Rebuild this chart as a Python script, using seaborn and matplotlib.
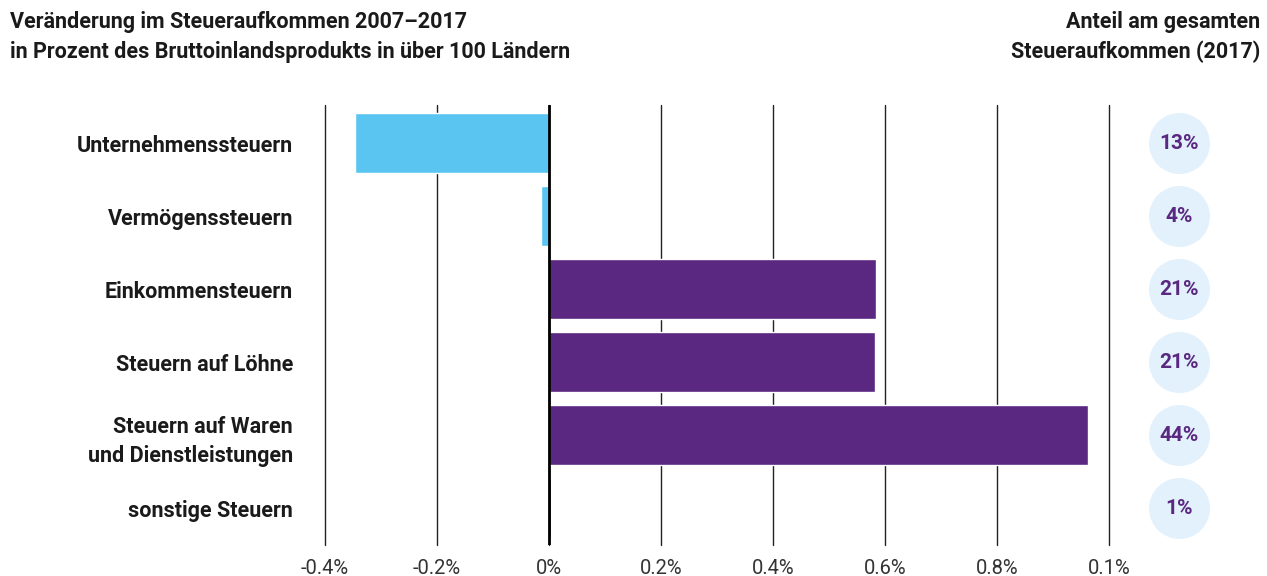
import matplotlib
matplotlib.use('Agg')
import matplotlib.pyplot as plt
import seaborn as sns
import pandas as pd

# Daten
kategorien = ['Unternehmenssteuern', 'Vermögenssteuern', 'Einkommensteuern',
              'Steuern auf Löhne', 'Steuern auf Waren\nund Dienstleistungen', 'sonstige Steuern']
veraenderung = [-0.346, -0.014, 0.584, 0.582, 0.963, 0.004]
anteil = ['13%', '4%', '21%', '21%', '44%', '1%']
farben = ['#5BC5F2', '#5BC5F2', '#5A2781', '#5A2781', '#5A2781', '#4A0E2E']
tick_werte = [-0.4, -0.2, 0, 0.2, 0.4, 0.6, 0.8, 1.0]
tick_labels = ['-0.4%', '-0.2%', '0%', '0.2%', '0.4%', '0.6%', '0.8%', '0.1%']

df = pd.DataFrame({'kategorie': kategorien, 'wert': veraenderung})

sns.set_style('white')
plt.rcParams['font.family'] = ['Roboto', 'DejaVu Sans']

fig = plt.figure(figsize=(12.67, 5.76), dpi=100)
ax = fig.add_axes([325 / 1267, 1 - 545 / 576, 784 / 1267, 440 / 576])

sns.barplot(data=df, x='wert', y='kategorie', hue='kategorie', palette=farben,
            orient='h', width=0.82, saturation=1, legend=False, ax=ax, zorder=3)

ax.set_xlim(-0.4, 1.0)
ax.set_ylim(5.5, -0.52)
for x in tick_werte:
    ax.axvline(x, color='#222222', lw=1, zorder=1, clip_on=False)
ax.axvline(0, color='black', lw=2, zorder=4)

ax.set_xticks(tick_werte)
ax.set_xticklabels(tick_labels, fontsize=14.5, color='#333333', fontweight='normal')
ax.tick_params(axis='x', length=4, color='#333333', pad=6)
ax.tick_params(axis='y', length=0, pad=23)
for lab in ax.get_yticklabels():
    lab.set_fontweight('bold')
    lab.set_fontsize(15.5)
    lab.set_color('#1a1a1a')
    lab.set_linespacing(1.4)
ax.set_xlabel('')
ax.set_ylabel('')
sns.despine(ax=ax, left=True, bottom=True)

# Kreise mit Anteilen
xk = 1.125
ax.scatter([xk] * len(anteil), range(len(anteil)), s=1930, color='#E2F1FC',
           clip_on=False, zorder=2, linewidths=0)
for i, a in enumerate(anteil):
    ax.text(xk, i, a, ha='center', va='center', fontsize=15, fontweight='bold',
            color='#5A2781', clip_on=False)

fig.text(10 / 1267, 1 - 37 / 576, 'Veränderung im Steueraufkommen 2007–2017\nin Prozent des Bruttoinlandsprodukts in über 100 Ländern',
         ha='left', va='center', fontsize=15.5, fontweight='bold', color='#1a1a1a', linespacing=1.45)
fig.text(1260 / 1267, 1 - 37 / 576, 'Anteil am gesamten\nSteueraufkommen (2017)',
         ha='right', va='center', fontsize=15.5, fontweight='bold', color='#1a1a1a', linespacing=1.45)

fig.savefig('out.png', dpi=100)
